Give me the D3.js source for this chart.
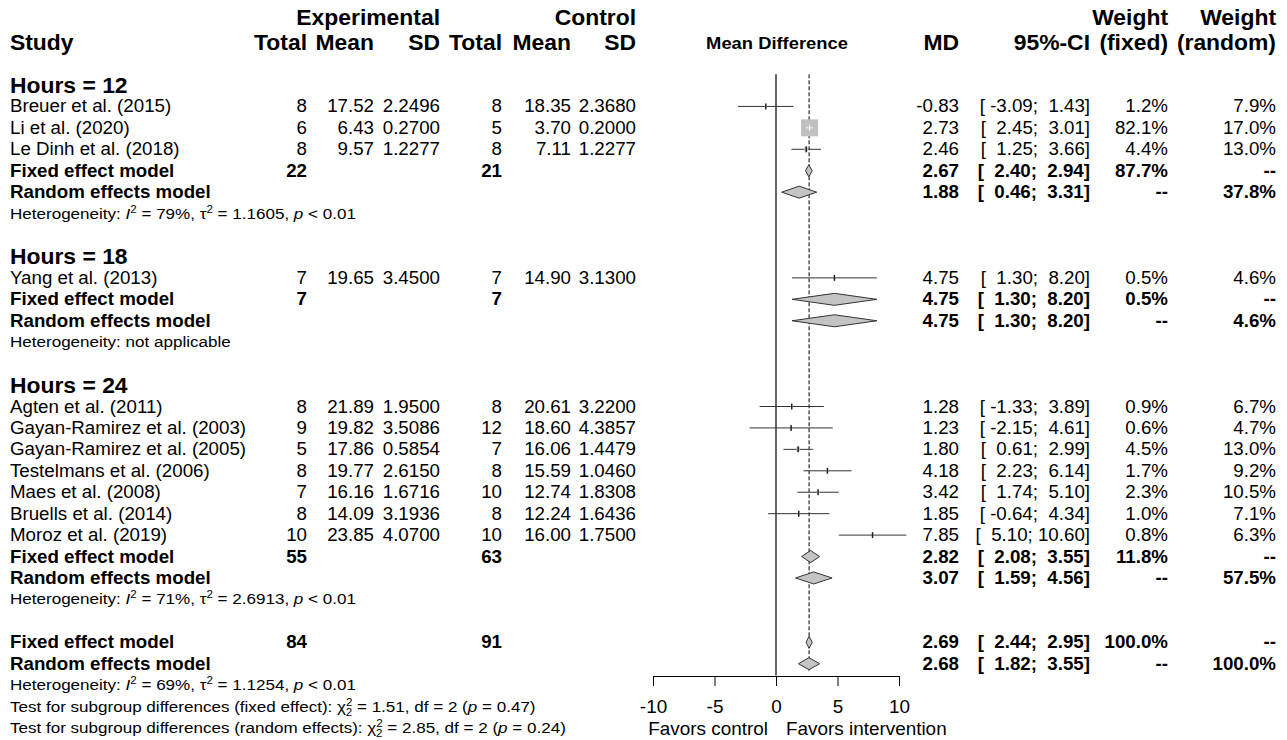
<!DOCTYPE html>
<html>
<head>
<meta charset="utf-8">
<script src="https://cdn.jsdelivr.net/npm/d3@7"></script>
<style>
  body { margin: 0; background: #fff; }
  svg text { font-family: "Liberation Sans", Arial, sans-serif; fill: #000; white-space: pre; }
</style>
</head>
<body>
<div id="chart"></div>
<script>
// ---- data ----
const groupLabels = ["Hours = 12", "Hours = 18", "Hours = 24"];

const studyNames = ["Breuer et al. (2015)", "Li et al. (2020)", "Le Dinh et al. (2018)",
  "Yang et al. (2013)",
  "Agten et al. (2011)", "Gayan-Ramirez et al. (2003)", "Gayan-Ramirez et al. (2005)",
  "Testelmans et al. (2006)", "Maes et al. (2008)", "Bruells et al. (2014)", "Moroz et al. (2019)"];
const studyGroup = [0, 0, 0, 1, 2, 2, 2, 2, 2, 2, 2];
const expTotal = [8, 6, 8, 7, 8, 9, 5, 8, 7, 8, 10];
const expMean = [17.52, 6.43, 9.57, 19.65, 21.89, 19.82, 17.86, 19.77, 16.16, 14.09, 23.85];
const expSD = [2.2496, 0.2700, 1.2277, 3.4500, 1.9500, 3.5086, 0.5854, 2.6150, 1.6716, 3.1936, 4.0700];
const ctlTotal = [8, 5, 8, 7, 8, 12, 7, 8, 10, 8, 10];
const ctlMean = [18.35, 3.70, 7.11, 14.90, 20.61, 18.60, 16.06, 15.59, 12.74, 12.24, 16.00];
const ctlSD = [2.3680, 0.2000, 1.2277, 3.1300, 3.2200, 4.3857, 1.4479, 1.0460, 1.8308, 1.6436, 1.7500];
const md = [-0.83, 2.73, 2.46, 4.75, 1.28, 1.23, 1.80, 4.18, 3.42, 1.85, 7.85];
const ciLow = [-3.09, 2.45, 1.25, 1.30, -1.33, -2.15, 0.61, 2.23, 1.74, -0.64, 5.10];
const ciHigh = [1.43, 3.01, 3.66, 8.20, 3.89, 4.61, 2.99, 6.14, 5.10, 4.34, 10.60];
const wFixed = [1.2, 82.1, 4.4, 0.5, 0.9, 0.6, 4.5, 1.7, 2.3, 1.0, 0.8];
const wRandom = [7.9, 17.0, 13.0, 4.6, 6.7, 4.7, 13.0, 9.2, 10.5, 7.1, 6.3];

// subgroup summaries
const subExpTotal = [22, 7, 55];
const subCtlTotal = [21, 7, 63];
const subFixedMD = [2.67, 4.75, 2.82];
const subFixedLow = [2.40, 1.30, 2.08];
const subFixedHigh = [2.94, 8.20, 3.55];
const subFixedW = [87.7, 0.5, 11.8];
const subRandomMD = [1.88, 4.75, 3.07];
const subRandomLow = [0.46, 1.30, 1.59];
const subRandomHigh = [3.31, 8.20, 4.56];
const subRandomW = [37.8, 4.6, 57.5];
const subI2 = ["79%", null, "71%"];
const subTau2 = ["1.1605", null, "2.6913"];
const subP = ["< 0.01", null, "< 0.01"];

// overall
const allExpTotal = 84, allCtlTotal = 91;
const allFixed = [2.69, 2.44, 2.95];     // MD, low, high
const allRandom = [2.68, 1.82, 3.55];
const allI2 = "69%", allTau2 = "1.1254", allP = "< 0.01";
const testChi2 = ["1.51", "2.85"];
const testP = ["0.47", "0.24"];
const testLabel = ["Test for subgroup differences (fixed effect): ", "Test for subgroup differences (random effects): "];

const axisTicks = [-10, -5, 0, 5, 10];

// ---- layout ----
const W = 1287, H = 740;
const svg = d3.select("#chart").append("svg").attr("width", W).attr("height", H);

const x = d3.scaleLinear().domain([-10, 10]).range([653, 899]);
const y = d3.scaleLinear().domain([0, 30]).range([85, 728]);
const col = {study: 10, eTot: 307, eMean: 374, eSD: 440, cTot: 502, cMean: 571, cSD: 636,
             md: 959, ci: 1090, wf: 1168, wr: 1276};
const FS = 17.5, FS_HEAD = 22, FS_HET = 15.5;
const SX = 1.07, SX_HEAD = 1.04, SX_HET = 1.1;

const f2 = v => v.toFixed(2), f4 = v => v.toFixed(4);
const pct = v => v.toFixed(1) + "%";
const pad = (s, n) => s.padStart(n, " ");
const ci = (lo, hi) => "[ " + pad(f2(lo), 5) + "; " + pad(f2(hi), 5) + "]";

function txt(xp, yp, s, anchor, bold, size, sx) {
  return svg.append("text")
    .attr("transform", "translate(" + xp + "," + yp + ") scale(" + (sx || SX) + ",1)")
    .attr("text-anchor", anchor || "start")
    .attr("font-weight", bold ? "bold" : "normal")
    .attr("font-size", size || FS)
    .text(s);
}

// rich text with italic / superscript / subscript parts
function rich(xp, yp, parts) {
  const t = svg.append("text")
    .attr("transform", "translate(" + xp + "," + yp + ") scale(" + SX_HET + ",1)")
    .attr("font-size", FS_HET);
  let off = 0;
  parts.forEach(p => {
    const sp = t.append("tspan").text(p[0]);
    let target = 0;
    if (p[1] === "i") sp.attr("font-style", "italic");
    if (p[1] === "sup") { target = -6; sp.attr("font-size", 10.5); }
    if (p[1] === "sub") { target = 4; sp.attr("font-size", 10.5).attr("dx", -6); }
    if (target !== off) sp.attr("dy", target - off);
    off = target;
  });
  return t;
}

// ---- header ----
const h1 = 25, h2 = 50;
txt(col.eSD, h1, "Experimental", "end", true, FS_HEAD, SX_HEAD);
txt(col.cSD, h1, "Control", "end", true, FS_HEAD, SX_HEAD);
txt(col.study, h2, "Study", "start", true, FS_HEAD, SX_HEAD);
[["Total", col.eTot], ["Mean", col.eMean], ["SD", col.eSD],
 ["Total", col.cTot], ["Mean", col.cMean], ["SD", col.cSD],
 ["MD", col.md], ["95%-CI", col.ci], ["(fixed)", col.wf], ["(random)", col.wr]]
  .forEach(d => txt(d[1], h2, d[0], "end", true, FS_HEAD, SX_HEAD));
txt(col.wf, h1, "Weight", "end", true, FS_HEAD, SX_HEAD);
txt(col.wr, h1, "Weight", "end", true, FS_HEAD, SX_HEAD);
txt(x(0) + 1, 49, "Mean Difference", "middle", true, 17, 1.08);

// ---- reference lines ----
svg.append("line")
  .attr("x1", x(0)).attr("x2", x(0))
  .attr("y1", y(-0.5)).attr("y2", y(27.5) + 1)
  .attr("stroke", "#000").attr("stroke-width", 1.2);
svg.append("line")
  .attr("x1", x(allFixed[0])).attr("x2", x(allFixed[0]))
  .attr("y1", y(-0.5)).attr("y2", y(27) + 7)
  .attr("stroke", "#000").attr("stroke-width", 1)
  .attr("stroke-dasharray", "4,2");

// ---- rows ----
const plot = svg.append("g");
const maxW = d3.max(wFixed);

function diamond(r, m, lo, hi) {
  const yc = y(r), h = 6;
  plot.append("polygon")
    .attr("points", [[x(lo), yc], [x(m), yc - h], [x(hi), yc], [x(m), yc + h]].map(p => p.join(",")).join(" "))
    .attr("fill", "#c4c4c4").attr("stroke", "#333").attr("stroke-width", 1);
}

function summaryText(r, label, eT, cT, m, lo, hi, wf, wr) {
  const b = y(r) + 6;
  txt(col.study, b, label, "start", true);
  if (eT != null) txt(col.eTot, b, String(eT), "end", true);
  if (cT != null) txt(col.cTot, b, String(cT), "end", true);
  txt(col.md, b, f2(m), "end", true);
  txt(col.ci, b, ci(lo, hi), "end", true);
  txt(col.wf, b, wf, "end", true);
  txt(col.wr, b, wr, "end", true);
}

let r = 0;
groupLabels.forEach((g, gi) => {
  txt(col.study, y(r) + 8, g, "start", true, FS_HEAD, SX_HEAD);
  r++;
  studyNames.forEach((s, i) => {
    if (studyGroup[i] !== gi) return;
    const b = y(r) + 6;
    txt(col.study, b, s);
    txt(col.eTot, b, String(expTotal[i]), "end");
    txt(col.eMean, b, f2(expMean[i]), "end");
    txt(col.eSD, b, f4(expSD[i]), "end");
    txt(col.cTot, b, String(ctlTotal[i]), "end");
    txt(col.cMean, b, f2(ctlMean[i]), "end");
    txt(col.cSD, b, f4(ctlSD[i]), "end");
    txt(col.md, b, f2(md[i]), "end");
    txt(col.ci, b, ci(ciLow[i], ciHigh[i]), "end");
    txt(col.wf, b, pct(wFixed[i]), "end");
    txt(col.wr, b, pct(wRandom[i]), "end");

    // CI line, weighted square, point tick
    const yc = y(r);
    const s2 = 17 * Math.sqrt(wFixed[i] / maxW);
    const inside = x(ciHigh[i]) - x(ciLow[i]) < s2;
    plot.append("line")
      .attr("x1", x(ciLow[i])).attr("x2", x(ciHigh[i]))
      .attr("y1", yc).attr("y2", yc)
      .attr("stroke", "#333").attr("stroke-width", 1);
    plot.append("rect")
      .attr("x", x(md[i]) - s2 / 2).attr("y", yc - s2 / 2)
      .attr("width", s2).attr("height", s2)
      .attr("fill", "#c0c0c0");
    if (inside) {
      plot.append("line")
        .attr("x1", x(ciLow[i])).attr("x2", x(ciHigh[i]))
        .attr("y1", yc).attr("y2", yc)
        .attr("stroke", "#fff").attr("stroke-width", 1);
    }
    plot.append("line")
      .attr("x1", x(md[i])).attr("x2", x(md[i]))
      .attr("y1", yc - 3).attr("y2", yc + 3)
      .attr("stroke", inside ? "#fff" : "#222").attr("stroke-width", inside ? 1 : 1.5);
    r++;
  });

  summaryText(r, "Fixed effect model", subExpTotal[gi], subCtlTotal[gi],
    subFixedMD[gi], subFixedLow[gi], subFixedHigh[gi], pct(subFixedW[gi]), "--");
  diamond(r, subFixedMD[gi], subFixedLow[gi], subFixedHigh[gi]);
  r++;
  summaryText(r, "Random effects model", null, null,
    subRandomMD[gi], subRandomLow[gi], subRandomHigh[gi], "--", pct(subRandomW[gi]));
  diamond(r, subRandomMD[gi], subRandomLow[gi], subRandomHigh[gi]);
  r++;
  if (subI2[gi] == null) {
    rich(col.study, y(r) + 5, [["Heterogeneity: not applicable", ""]]);
  } else {
    rich(col.study, y(r) + 5, [["Heterogeneity: ", ""], ["I", "i"], ["2", "sup"],
      [" = " + subI2[gi] + ", \u03c4", ""], ["2", "sup"], [" = " + subTau2[gi] + ", ", ""],
      ["p", "i"], [" " + subP[gi], ""]]);
  }
  r += 2;
});

// overall
summaryText(r, "Fixed effect model", allExpTotal, allCtlTotal,
  allFixed[0], allFixed[1], allFixed[2], "100.0%", "--");
diamond(r, allFixed[0], allFixed[1], allFixed[2]);
r++;
summaryText(r, "Random effects model", null, null,
  allRandom[0], allRandom[1], allRandom[2], "--", "100.0%");
diamond(r, allRandom[0], allRandom[1], allRandom[2]);
r++;
rich(col.study, y(r) + 5, [["Heterogeneity: ", ""], ["I", "i"], ["2", "sup"],
  [" = " + allI2 + ", \u03c4", ""], ["2", "sup"], [" = " + allTau2 + ", ", ""],
  ["p", "i"], [" " + allP, ""]]);
r++;
testLabel.forEach((lab, k) => {
  rich(col.study, y(r) + 5, [[lab + "\u03c7", ""], ["2", "sup"], ["2", "sub"],
    [" = " + testChi2[k] + ", df = 2 (", ""], ["p", "i"], [" = " + testP[k] + ")", ""]]);
  r++;
});

// ---- axis ----
const axisY = 676;
const ax = svg.append("g")
  .attr("transform", "translate(0," + axisY + ")")
  .call(d3.axisBottom(x).tickValues(axisTicks).tickSize(10).tickSizeOuter(0).tickPadding(15)
    .tickFormat(d => String(d)));
ax.selectAll("path, line").attr("stroke", "#000");
ax.selectAll("text")
  .attr("font-size", 17.5)
  .attr("transform", "scale(1.08,1)")
  .style("font-family", "'Liberation Sans', Arial, sans-serif")
  .attr("fill", "#000");
txt(x(0) - 8, 735, "Favors control", "end", false, 17.5, 1.08);
txt(x(0) + 10, 735, "Favors intervention", "start", false, 17.5, 1.08);
</script>
</body>
</html>
